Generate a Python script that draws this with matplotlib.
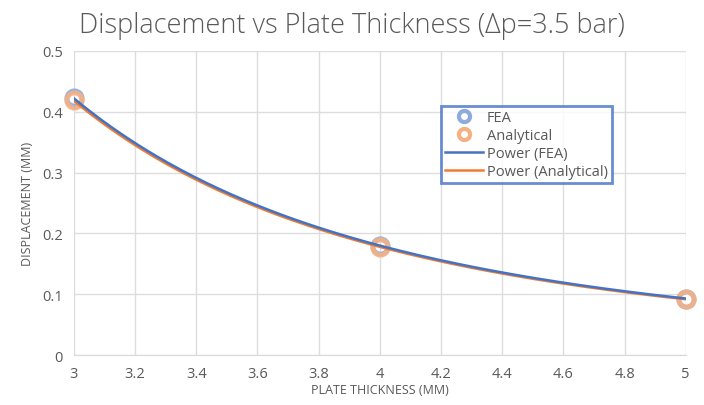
import numpy as np
import matplotlib
matplotlib.use("Agg")
import matplotlib.pyplot as plt
from matplotlib.lines import Line2D

# data
thickness = [3.0, 4.0, 5.0]
disp_fea = [0.422, 0.180, 0.093]
disp_analytical = [0.419, 0.177, 0.092]

x_ticks = [3, 3.2, 3.4, 3.6, 3.8, 4, 4.2, 4.4, 4.6, 4.8, 5]
x_tick_labels = ["3", "3.2", "3.4", "3.6", "3.8", "4", "4.2", "4.4", "4.6", "4.8", "5"]
y_ticks = [0, 0.1, 0.2, 0.3, 0.4, 0.5]
y_tick_labels = ["0", "0.1", "0.2", "0.3", "0.4", "0.5"]


def power_fit(x, y):
    # least squares in log space, like an Excel power trendline
    b, ln_a = np.polyfit(np.log(x), np.log(y), 1)
    return np.exp(ln_a), b


grey = "#595959"
plt.rcParams["font.family"] = ["Open Sans", "DejaVu Sans"]

fig = plt.figure(figsize=(7.04, 4.06), dpi=100)
ax = fig.add_axes([0.105, 0.123, 0.869, 0.749])

xs = np.linspace(3, 5, 200)
a1, b1 = power_fit(thickness, disp_fea)
a2, b2 = power_fit(thickness, disp_analytical)

ax.plot(xs, a2 * xs ** b2, color="#ED7D31", lw=1.8, zorder=3)
ax.plot(xs, a1 * xs ** b1, color="#4472C4", lw=1.8, zorder=4)

ax.plot(thickness, disp_fea, "o", ms=11, mfc="none", mec="#8FAADC", mew=3.5,
        alpha=0.9, zorder=2, clip_on=False)
ax.plot(thickness, disp_analytical, "o", ms=11, mfc="none", mec="#F4B183", mew=3.5,
        alpha=0.9, zorder=2, clip_on=False)

ax.set_xlim(3, 5)
ax.set_ylim(0, 0.5)
ax.set_xticks(x_ticks)
ax.set_xticklabels(x_tick_labels)
ax.set_yticks(y_ticks)
ax.set_yticklabels(y_tick_labels)
ax.grid(True, color="#DDDDDD", lw=1)
ax.set_axisbelow(True)
for side in ["top", "right", "left"]:
    ax.spines[side].set_visible(False)
ax.spines["bottom"].set_color("#D9D9D9")
ax.tick_params(length=0, colors=grey, labelsize=10.5, pad=8)

ax.set_xlabel("PLATE THICKNESS (MM)", color=grey, fontsize=9, labelpad=1)
ax.set_ylabel("DISPLACEMENT (MM)", color=grey, fontsize=9, labelpad=6)
fig.suptitle("Displacement vs Plate Thickness (\u0394p=3.5 bar)", x=0.5, y=0.97,
             fontsize=19.5, color=grey, fontweight="light")

handles = [
    Line2D([], [], ls="none", marker="o", ms=8, mfc="white", mec="#8FAADC", mew=3),
    Line2D([], [], ls="none", marker="o", ms=8, mfc="white", mec="#F4B183", mew=3),
    Line2D([], [], color="#4472C4", lw=1.8),
    Line2D([], [], color="#ED7D31", lw=1.8),
]
labels = ["FEA", "Analytical", "Power (FEA)", "Power (Analytical)"]
leg = ax.legend(handles, labels, loc="upper left", bbox_to_anchor=(0.6, 0.82),
                frameon=True, fancybox=False, fontsize=10.5, labelcolor=grey,
                handlelength=2.6, handletextpad=0.25, labelspacing=0.2,
                borderpad=0.3, borderaxespad=0)
leg.get_frame().set_edgecolor("#4472C4")
leg.get_frame().set_linewidth(2)

fig.savefig("out.png", dpi=100, facecolor="white")
